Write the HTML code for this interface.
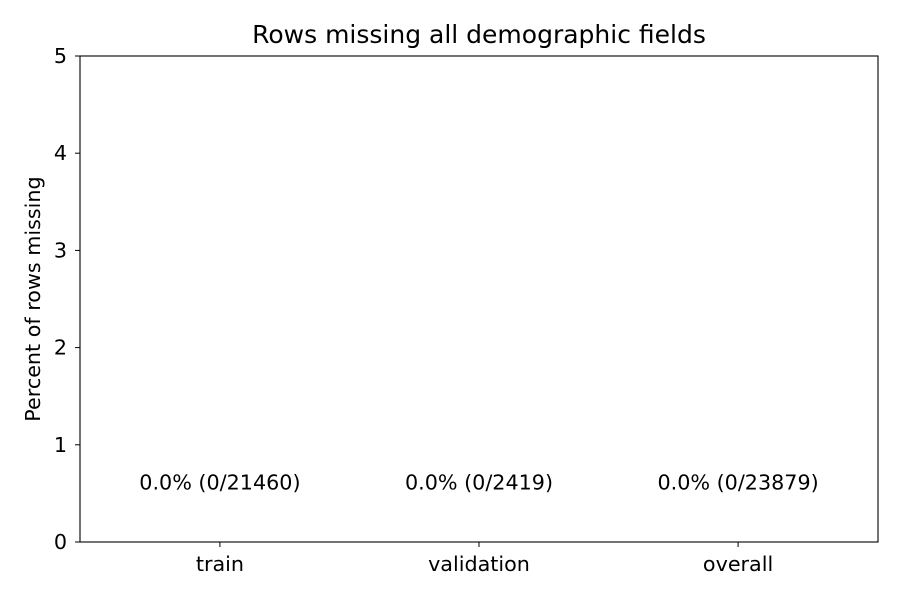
<!DOCTYPE html>
<html><head><meta charset="utf-8"><style>
html,body{margin:0;padding:0;background:#fff;}
svg{display:block;font-family:"DejaVu Sans","Liberation Sans",sans-serif;}
</style></head><body>
<svg id="chart" width="900" height="600">
<rect x="0" y="0" width="900" height="600" fill="#fff"/>
<text x="479" y="43" font-size="25px" text-anchor="middle">Rows missing all demographic fields</text>
<text transform="translate(40,299) rotate(-90)" font-size="20.7px" text-anchor="middle">Percent of rows missing</text>
<g id="marks"></g>
<rect x="80" y="56" width="798" height="486" fill="none" stroke="#000" stroke-width="1.1"/>
</svg>
<script>
const categories = ["train", "validation", "overall"];
const values = [0, 0, 0];
const missing = [0, 0, 0];
const totals = [21460, 2419, 23879];
const yTicks = [0, 1, 2, 3, 4, 5];

const L = 80, R = 878, T = 56, B = 542, yMax = 5;
const xMin = -0.54, xMax = 2.54;
const NS = "http://www.w3.org/2000/svg";
const g = document.getElementById("marks");
function y(v){ return B - v / yMax * (B - T); }
function x(i){ return L + (i - xMin) / (xMax - xMin) * (R - L); }
const unit = (R - L) / (xMax - xMin);
function mk(tag, attrs, text){
  const e = document.createElementNS(NS, tag);
  for (const k in attrs) e.setAttribute(k, attrs[k]);
  if (text !== undefined) e.textContent = text;
  g.appendChild(e);
  return e;
}
yTicks.forEach(t => {
  const l = mk("line", {x1: L - 5, x2: L, y1: y(t), y2: y(t), stroke: "#000", "stroke-width": 1});
  
  
  const tx = mk("text", {x: L - 13, y: y(t) + 7, "font-size": "20.7px", "text-anchor": "end"}, String(t));
  
  
});
categories.forEach((c, i) => {
  const bw = unit * 0.8;
  const b = mk("rect", {x: x(i) - bw / 2, y: y(values[i]), width: bw, height: B - y(values[i]), fill: "#1f77b4"});
  
  
  const tk = mk("line", {x1: x(i), x2: x(i), y1: B, y2: B + 5, stroke: "#000", "stroke-width": 1});
  
  
  const tl = mk("text", {x: x(i), y: B + 29, "font-size": "20.7px", "text-anchor": "middle"}, c);
  
  
  const vl = mk("text", {x: x(i), y: y(values[i] + 0.6) + 6, "font-size": "20.7px", "text-anchor": "middle"},
    values[i].toFixed(1) + "% (" + missing[i] + "/" + totals[i] + ")");
  
  
});
</script>
</body></html>
